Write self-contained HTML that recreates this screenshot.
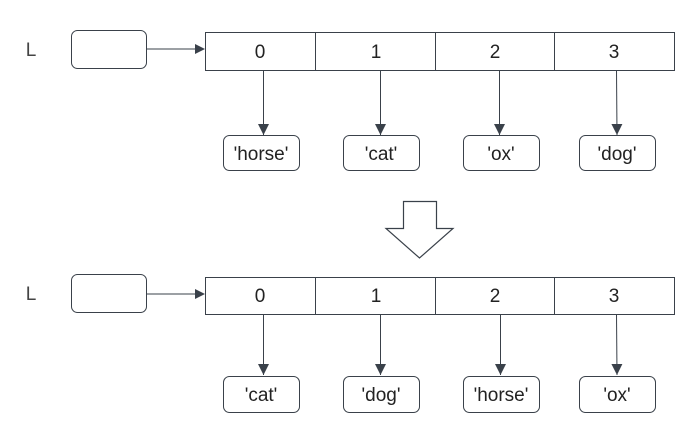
<!DOCTYPE html>
<html><head><style>body{margin:0;background:#fff}</style></head><body>
<svg width="691" height="425" xmlns="http://www.w3.org/2000/svg" font-family="Liberation Sans, sans-serif">
<defs><marker id="a" markerWidth="10" markerHeight="10" refX="9" refY="5" orient="auto" markerUnits="userSpaceOnUse"><path d="M0,0 L10,5 L0,10z" fill="#3a414a"/></marker>
<marker id="d" markerWidth="12" markerHeight="12" refX="11" refY="5.5" orient="auto" markerUnits="userSpaceOnUse"><path d="M0,0 L11,5.5 L0,11z" fill="#3a414a"/></marker></defs>
<g stroke="#3a414a" stroke-width="1" fill="none">
<rect x="71.5" y="30.5" width="75" height="38" rx="6"/>
<line x1="147" y1="49" x2="204" y2="49" marker-end="url(#a)"/>
<rect x="205.5" y="32.5" width="469" height="38" fill="#fff"/>
<line x1="315.5" y1="32" x2="315.5" y2="70"/><line x1="435.5" y1="32" x2="435.5" y2="70"/><line x1="554.5" y1="32" x2="554.5" y2="70"/>
<line x1="263.5" y1="70" x2="263.5" y2="135" marker-end="url(#d)"/>
<line x1="380.5" y1="70" x2="380.5" y2="135" marker-end="url(#d)"/>
<line x1="499.5" y1="70" x2="499.5" y2="135" marker-end="url(#d)"/>
<line x1="616.5" y1="70" x2="617" y2="135" marker-end="url(#d)"/>
<rect x="223.5" y="135.5" width="76" height="35" rx="6"/>
<rect x="343.5" y="135.5" width="76" height="35" rx="6"/>
<rect x="463.5" y="135.5" width="76" height="35" rx="6"/>
<rect x="579.5" y="135.5" width="76" height="35" rx="6"/>
<path d="M403.5,201.5 H436.5 V228.5 H453 L419.5,258 L386,228.5 H403.5 Z" fill="#fff" stroke-width="1.2"/>
<rect x="71.5" y="274.5" width="75" height="38" rx="6"/>
<line x1="147" y1="294" x2="204" y2="294" marker-end="url(#a)"/>
<rect x="205.5" y="277.5" width="469" height="37" fill="#fff"/>
<line x1="315.5" y1="277" x2="315.5" y2="314"/><line x1="435.5" y1="277" x2="435.5" y2="314"/><line x1="554.5" y1="277" x2="554.5" y2="314"/>
<line x1="263.5" y1="314" x2="263.5" y2="375" marker-end="url(#d)"/>
<line x1="380.5" y1="314" x2="380.5" y2="375" marker-end="url(#d)"/>
<line x1="500.5" y1="314" x2="500.5" y2="375" marker-end="url(#d)"/>
<line x1="616.5" y1="314" x2="617" y2="375" marker-end="url(#d)"/>
<rect x="223.5" y="376.5" width="76" height="36" rx="6"/>
<rect x="343.5" y="376.5" width="76" height="36" rx="6"/>
<rect x="463.5" y="376.5" width="76" height="36" rx="6"/>
<rect x="579.5" y="376.5" width="76" height="36" rx="6"/>
</g>
<g font-size="19" fill="#222" text-anchor="middle">
<text x="31" y="56" fill="#444">L</text>
<text x="260" y="58">0</text><text x="376" y="58">1</text><text x="495" y="58">2</text><text x="614" y="58">3</text>
<text x="261" y="160">'horse'</text><text x="381" y="160">'cat'</text><text x="501" y="160">'ox'</text><text x="617" y="160">'dog'</text>
<text x="31" y="300" fill="#444">L</text>
<text x="260" y="302">0</text><text x="376" y="302">1</text><text x="495" y="302">2</text><text x="614" y="302">3</text>
<text x="261" y="401">'cat'</text><text x="381" y="401">'dog'</text><text x="501" y="401">'horse'</text><text x="617" y="401">'ox'</text>
</g>
</svg>
</body></html>
